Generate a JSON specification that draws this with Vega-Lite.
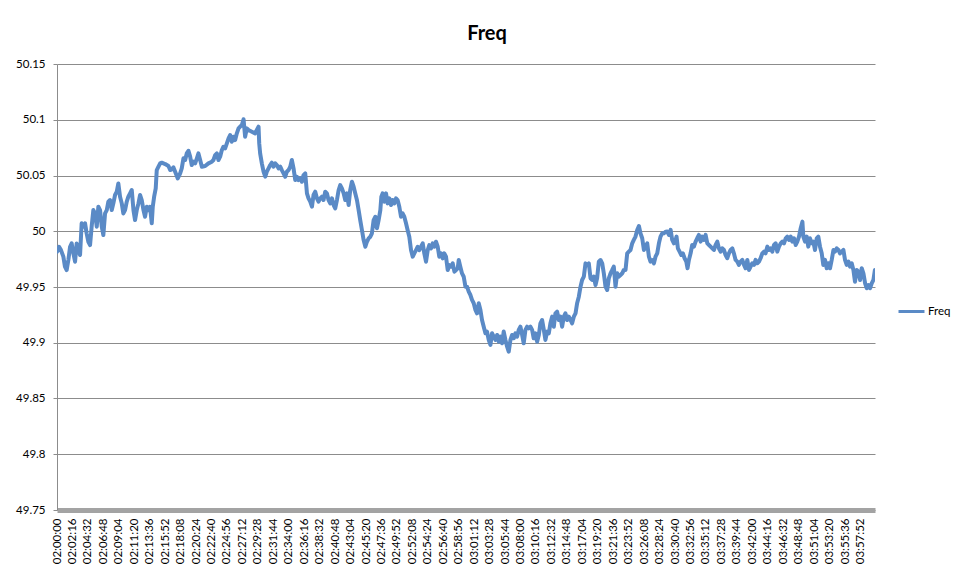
{
  "$schema": "https://vega.github.io/schema/vega-lite/v6.json",
  "width": 818,
  "height": 446,
  "autosize": {"type": "none"},
  "padding": {"left": 57, "top": 64, "right": 81, "bottom": 59},
  "background": "#ffffff",
  "view": {"stroke": null},
  "title": {"text": "Freq", "font": "Lato", "fontSize": 20, "fontWeight": "bold", "color": "#000000", "anchor": "middle", "dx": 21, "offset": 14},
  "data": {
    "format": {"parse": {"time": "utc:'%H:%M:%S'"}},
    "values": [
{"time":"02:00:00","freq":49.9816},{"time":"02:00:18","freq":49.9861},{"time":"02:00:35","freq":49.9831},{"time":"02:00:56","freq":49.9772},{"time":"02:01:10","freq":49.9682},{"time":"02:01:25","freq":49.9652},{"time":"02:01:40","freq":49.9742},{"time":"02:01:55","freq":49.9861},{"time":"02:02:09","freq":49.9891},{"time":"02:02:24","freq":49.9802},{"time":"02:02:39","freq":49.9727},{"time":"02:02:53","freq":49.9891},{"time":"02:03:08","freq":49.9831},{"time":"02:03:23","freq":49.9787},{"time":"02:03:37","freq":50.0071},{"time":"02:03:52","freq":50.0041},{"time":"02:04:07","freq":50.0071},{"time":"02:04:21","freq":49.9981},{"time":"02:04:36","freq":49.9906},{"time":"02:04:51","freq":49.9876},{"time":"02:05:05","freq":50.0041},{"time":"02:05:20","freq":50.019},{"time":"02:05:35","freq":50.016},{"time":"02:05:50","freq":50.0041},{"time":"02:06:04","freq":50.022},{"time":"02:06:19","freq":50.019},{"time":"02:06:34","freq":50.0041},{"time":"02:06:48","freq":49.9966},{"time":"02:07:03","freq":50.016},{"time":"02:07:18","freq":50.019},{"time":"02:07:32","freq":50.0265},{"time":"02:07:47","freq":50.028},{"time":"02:08:02","freq":50.019},{"time":"02:08:16","freq":50.025},{"time":"02:08:31","freq":50.0325},{"time":"02:08:46","freq":50.0355},{"time":"02:09:00","freq":50.0429},{"time":"02:09:15","freq":50.031},{"time":"02:09:30","freq":50.025},{"time":"02:09:44","freq":50.016},{"time":"02:09:59","freq":50.019},{"time":"02:10:14","freq":50.0265},{"time":"02:10:28","freq":50.031},{"time":"02:10:43","freq":50.034},{"time":"02:10:58","freq":50.037},{"time":"02:11:13","freq":50.019},{"time":"02:11:27","freq":50.01},{"time":"02:11:42","freq":50.019},{"time":"02:11:57","freq":50.025},{"time":"02:12:11","freq":50.0325},{"time":"02:12:26","freq":50.028},{"time":"02:12:41","freq":50.019},{"time":"02:12:55","freq":50.013},{"time":"02:13:10","freq":50.022},{"time":"02:13:25","freq":50.019},{"time":"02:13:39","freq":50.022},{"time":"02:13:54","freq":50.0071},{"time":"02:14:03","freq":50.022},{"time":"02:14:15","freq":50.031},{"time":"02:14:29","freq":50.0385},{"time":"02:14:38","freq":50.0549},{"time":"02:14:53","freq":50.0579},{"time":"02:15:08","freq":50.0609},{"time":"02:15:22","freq":50.0615},{"time":"02:15:52","freq":50.0603},{"time":"02:16:21","freq":50.0585},{"time":"02:16:36","freq":50.0549},{"time":"02:16:50","freq":50.0555},{"time":"02:17:05","freq":50.0573},{"time":"02:17:20","freq":50.0534},{"time":"02:17:43","freq":50.0474},{"time":"02:18:04","freq":50.0519},{"time":"02:18:18","freq":50.0564},{"time":"02:18:33","freq":50.0654},{"time":"02:18:48","freq":50.0639},{"time":"02:19:02","freq":50.0698},{"time":"02:19:17","freq":50.0722},{"time":"02:19:32","freq":50.0669},{"time":"02:19:46","freq":50.0594},{"time":"02:20:01","freq":50.0624},{"time":"02:20:16","freq":50.0609},{"time":"02:20:31","freq":50.0654},{"time":"02:20:45","freq":50.0698},{"time":"02:21:00","freq":50.0639},{"time":"02:21:15","freq":50.0579},{"time":"02:21:44","freq":50.0585},{"time":"02:22:13","freq":50.0609},{"time":"02:22:43","freq":50.0624},{"time":"02:22:57","freq":50.0639},{"time":"02:23:12","freq":50.0683},{"time":"02:23:27","freq":50.0698},{"time":"02:23:41","freq":50.0639},{"time":"02:23:56","freq":50.0669},{"time":"02:24:11","freq":50.0728},{"time":"02:24:25","freq":50.0758},{"time":"02:24:40","freq":50.0743},{"time":"02:24:55","freq":50.0788},{"time":"02:25:10","freq":50.0833},{"time":"02:25:24","freq":50.0863},{"time":"02:25:39","freq":50.0803},{"time":"02:25:54","freq":50.0848},{"time":"02:26:08","freq":50.0818},{"time":"02:26:23","freq":50.0878},{"time":"02:26:38","freq":50.0923},{"time":"02:26:52","freq":50.0938},{"time":"02:27:07","freq":50.0953},{"time":"02:27:22","freq":50.1005},{"time":"02:27:36","freq":50.0848},{"time":"02:27:51","freq":50.0923},{"time":"02:28:06","freq":50.0908},{"time":"02:28:35","freq":50.0893},{"time":"02:29:04","freq":50.0878},
{"time":"02:29:19","freq":50.0908},{"time":"02:29:34","freq":50.0938},{"time":"02:29:40","freq":50.0788},{"time":"02:29:48","freq":50.0698},{"time":"02:30:03","freq":50.0609},{"time":"02:30:18","freq":50.0534},{"time":"02:30:33","freq":50.0489},{"time":"02:30:47","freq":50.0534},{"time":"02:31:02","freq":50.0564},{"time":"02:31:17","freq":50.0594},{"time":"02:31:31","freq":50.0615},{"time":"02:31:46","freq":50.0579},{"time":"02:32:01","freq":50.0609},{"time":"02:32:15","freq":50.0594},{"time":"02:32:30","freq":50.0564},{"time":"02:32:45","freq":50.0579},{"time":"02:32:59","freq":50.0549},{"time":"02:33:14","freq":50.0519},{"time":"02:33:29","freq":50.0489},{"time":"02:33:43","freq":50.0534},{"time":"02:33:58","freq":50.0549},{"time":"02:34:13","freq":50.0579},{"time":"02:34:27","freq":50.0639},{"time":"02:34:42","freq":50.0564},{"time":"02:34:57","freq":50.0459},{"time":"02:35:11","freq":50.0489},{"time":"02:35:26","freq":50.0459},{"time":"02:35:41","freq":50.0474},{"time":"02:35:56","freq":50.0444},{"time":"02:36:10","freq":50.0504},{"time":"02:36:25","freq":50.0519},{"time":"02:36:40","freq":50.034},{"time":"02:36:54","freq":50.0295},{"time":"02:37:09","freq":50.0265},{"time":"02:37:24","freq":50.022},{"time":"02:37:38","freq":50.0325},{"time":"02:37:53","freq":50.0355},{"time":"02:38:08","freq":50.0295},{"time":"02:38:22","freq":50.0265},{"time":"02:38:37","freq":50.0295},{"time":"02:38:52","freq":50.031},{"time":"02:39:06","freq":50.028},{"time":"02:39:21","freq":50.0355},{"time":"02:39:36","freq":50.034},{"time":"02:39:50","freq":50.028},{"time":"02:40:05","freq":50.025},{"time":"02:40:20","freq":50.0295},{"time":"02:40:35","freq":50.0235},{"time":"02:40:49","freq":50.0205},{"time":"02:41:04","freq":50.028},{"time":"02:41:19","freq":50.037},{"time":"02:41:33","freq":50.0414},{"time":"02:41:48","freq":50.0385},{"time":"02:42:03","freq":50.034},{"time":"02:42:17","freq":50.028},{"time":"02:42:32","freq":50.034},{"time":"02:42:47","freq":50.0235},{"time":"02:43:01","freq":50.037},{"time":"02:43:16","freq":50.0444},{"time":"02:43:31","freq":50.0399},{"time":"02:43:45","freq":50.034},{"time":"02:44:00","freq":50.028},{"time":"02:44:15","freq":50.019},{"time":"02:44:29","freq":50.01},{"time":"02:44:44","freq":50.0011},{"time":"02:44:59","freq":49.9921},{"time":"02:45:14","freq":49.9861},{"time":"02:45:28","freq":49.9906},{"time":"02:45:43","freq":49.9936},{"time":"02:45:58","freq":49.9951},{"time":"02:46:12","freq":49.9981},{"time":"02:46:27","freq":50.01},{"time":"02:46:42","freq":50.013},{"time":"02:46:56","freq":50.0026},{"time":"02:47:11","freq":50.01},{"time":"02:47:26","freq":50.019},{"time":"02:47:35","freq":50.031},{"time":"02:47:46","freq":50.034},{"time":"02:48:01","freq":50.0265},{"time":"02:48:16","freq":50.034},{"time":"02:48:30","freq":50.025},{"time":"02:48:45","freq":50.0295},{"time":"02:49:00","freq":50.0235},{"time":"02:49:14","freq":50.028},{"time":"02:49:29","freq":50.025},{"time":"02:49:44","freq":50.0295},{"time":"02:49:58","freq":50.028},{"time":"02:50:13","freq":50.022},{"time":"02:50:28","freq":50.013},{"time":"02:50:42","freq":50.016},{"time":"02:50:57","freq":50.013},{"time":"02:51:12","freq":50.0071},{"time":"02:51:26","freq":50.0011},{"time":"02:51:41","freq":49.9951},{"time":"02:51:56","freq":49.9831},{"time":"02:52:11","freq":49.9772},{"time":"02:52:25","freq":49.9802},{"time":"02:52:40","freq":49.9831},{"time":"02:52:55","freq":49.9861},{"time":"02:53:09","freq":49.9831},{"time":"02:53:24","freq":49.9861},{"time":"02:53:39","freq":49.9891},{"time":"02:53:53","freq":49.9802},{"time":"02:54:08","freq":49.9727},{"time":"02:54:23","freq":49.9831},{"time":"02:54:37","freq":49.9876},{"time":"02:54:52","freq":49.9846},{"time":"02:55:07","freq":49.9891},{"time":"02:55:21","freq":49.9861},{"time":"02:55:36","freq":49.9906},{"time":"02:55:51","freq":49.9861},{"time":"02:56:05","freq":49.9772},{"time":"02:56:20","freq":49.9802},{"time":"02:56:35","freq":49.9757},{"time":"02:56:49","freq":49.9802},{"time":"02:57:04","freq":49.9772},{"time":"02:57:19","freq":49.9652},{"time":"02:57:34","freq":49.9697},{"time":"02:57:48","freq":49.9682},{"time":"02:58:03","freq":49.9712},{"time":"02:58:18","freq":49.9637},{"time":"02:58:32","freq":49.9652},{"time":"02:58:47","freq":49.9667},{"time":"02:58:56","freq":49.9742},{"time":"02:59:10","freq":49.9682},{"time":"02:59:25","freq":49.9622},{"time":"02:59:40","freq":49.9592},{"time":"02:59:55","freq":49.9503},
{"time":"03:00:09","freq":49.9503},{"time":"03:00:24","freq":49.9458},{"time":"03:00:39","freq":49.9428},{"time":"03:00:53","freq":49.9384},{"time":"03:01:08","freq":49.9354},{"time":"03:01:23","freq":49.9294},{"time":"03:01:37","freq":49.9264},{"time":"03:01:52","freq":49.9354},{"time":"03:02:07","freq":49.9294},{"time":"03:02:21","freq":49.9204},{"time":"03:02:36","freq":49.9144},{"time":"03:02:51","freq":49.9085},{"time":"03:03:05","freq":49.91},{"time":"03:03:20","freq":49.9025},{"time":"03:03:35","freq":49.898},{"time":"03:03:49","freq":49.9085},{"time":"03:04:04","freq":49.9055},{"time":"03:04:19","freq":49.9025},{"time":"03:04:34","freq":49.907},{"time":"03:04:48","freq":49.901},{"time":"03:05:03","freq":49.9055},{"time":"03:05:18","freq":49.8995},{"time":"03:05:32","freq":49.91},{"time":"03:05:47","freq":49.9025},{"time":"03:06:02","freq":49.8965},{"time":"03:06:16","freq":49.892},{"time":"03:06:31","freq":49.9025},{"time":"03:06:46","freq":49.907},{"time":"03:07:00","freq":49.904},{"time":"03:07:15","freq":49.9085},{"time":"03:07:30","freq":49.9055},{"time":"03:07:44","freq":49.9115},{"time":"03:07:59","freq":49.9144},{"time":"03:08:14","freq":49.907},{"time":"03:08:28","freq":49.8995},{"time":"03:08:43","freq":49.9115},{"time":"03:08:58","freq":49.9144},{"time":"03:09:12","freq":49.9129},{"time":"03:09:27","freq":49.9144},{"time":"03:09:42","freq":49.9115},{"time":"03:09:56","freq":49.904},{"time":"03:10:11","freq":49.9085},{"time":"03:10:26","freq":49.901},{"time":"03:10:41","freq":49.907},{"time":"03:10:55","freq":49.9174},{"time":"03:11:10","freq":49.9204},{"time":"03:11:25","freq":49.9115},{"time":"03:11:39","freq":49.9025},{"time":"03:11:54","freq":49.91},{"time":"03:12:09","freq":49.9085},{"time":"03:12:23","freq":49.9174},{"time":"03:12:38","freq":49.9234},{"time":"03:12:53","freq":49.9144},{"time":"03:13:07","freq":49.9264},{"time":"03:13:22","freq":49.9279},{"time":"03:13:37","freq":49.9204},{"time":"03:13:51","freq":49.9234},{"time":"03:14:06","freq":49.9144},{"time":"03:14:21","freq":49.9234},{"time":"03:14:35","freq":49.9264},{"time":"03:14:50","freq":49.9204},{"time":"03:15:05","freq":49.9234},{"time":"03:15:20","freq":49.9204},{"time":"03:15:34","freq":49.9174},{"time":"03:15:49","freq":49.9234},{"time":"03:16:04","freq":49.9264},{"time":"03:16:18","freq":49.9354},{"time":"03:16:33","freq":49.9413},{"time":"03:16:48","freq":49.9503},{"time":"03:17:02","freq":49.9563},{"time":"03:17:17","freq":49.9593},{"time":"03:17:32","freq":49.9712},{"time":"03:17:46","freq":49.9697},{"time":"03:18:01","freq":49.9712},{"time":"03:18:16","freq":49.9578},{"time":"03:18:30","freq":49.9563},{"time":"03:18:45","freq":49.9593},{"time":"03:19:00","freq":49.9518},{"time":"03:19:14","freq":49.9578},{"time":"03:19:29","freq":49.9727},{"time":"03:19:44","freq":49.9742},{"time":"03:19:59","freq":49.9712},{"time":"03:20:13","freq":49.9623},{"time":"03:20:28","freq":49.9503},{"time":"03:20:43","freq":49.9473},{"time":"03:20:57","freq":49.9578},{"time":"03:21:12","freq":49.9623},{"time":"03:21:27","freq":49.9653},{"time":"03:21:41","freq":49.9683},{"time":"03:21:56","freq":49.9503},{"time":"03:22:11","freq":49.9623},{"time":"03:22:25","freq":49.9593},{"time":"03:22:40","freq":49.9608},{"time":"03:22:55","freq":49.9623},{"time":"03:23:09","freq":49.9653},{"time":"03:23:24","freq":49.9653},{"time":"03:23:39","freq":49.9802},{"time":"03:23:53","freq":49.9817},{"time":"03:24:08","freq":49.9832},{"time":"03:24:23","freq":49.9892},{"time":"03:24:37","freq":49.9922},{"time":"03:24:52","freq":49.9952},{"time":"03:25:07","freq":50.0011},{"time":"03:25:22","freq":50.0047},{"time":"03:25:36","freq":49.9981},{"time":"03:25:51","freq":49.9937},{"time":"03:26:06","freq":49.9832},{"time":"03:26:20","freq":49.9862},{"time":"03:26:35","freq":49.9892},{"time":"03:26:50","freq":49.9772},{"time":"03:27:04","freq":49.9727},{"time":"03:27:19","freq":49.9742},{"time":"03:27:34","freq":49.9712},{"time":"03:27:48","freq":49.9772},{"time":"03:28:03","freq":49.9802},{"time":"03:28:18","freq":49.9892},{"time":"03:28:32","freq":49.9952},{"time":"03:28:47","freq":49.9981},{"time":"03:29:02","freq":49.9981},{"time":"03:29:17","freq":49.9996},
{"time":"03:29:31","freq":49.9997},{"time":"03:29:46","freq":49.9967},{"time":"03:30:01","freq":50.0012},{"time":"03:30:15","freq":49.9922},{"time":"03:30:30","freq":49.9892},{"time":"03:30:45","freq":49.9922},{"time":"03:30:53","freq":49.9952},{"time":"03:31:05","freq":49.9847},{"time":"03:31:20","freq":49.9817},{"time":"03:31:35","freq":49.9787},{"time":"03:31:49","freq":49.9802},{"time":"03:32:04","freq":49.9758},{"time":"03:32:19","freq":49.9728},{"time":"03:32:30","freq":49.9668},{"time":"03:32:42","freq":49.9743},{"time":"03:32:57","freq":49.9802},{"time":"03:33:11","freq":49.9877},{"time":"03:33:26","freq":49.9862},{"time":"03:33:41","freq":49.9907},{"time":"03:33:55","freq":49.9937},{"time":"03:34:10","freq":49.9967},{"time":"03:34:25","freq":49.9907},{"time":"03:34:40","freq":49.9952},{"time":"03:34:54","freq":49.9922},{"time":"03:35:09","freq":49.9967},{"time":"03:35:24","freq":49.9892},{"time":"03:35:38","freq":49.9877},{"time":"03:35:53","freq":49.9862},{"time":"03:36:08","freq":49.9847},{"time":"03:36:22","freq":49.9832},{"time":"03:36:37","freq":49.9877},{"time":"03:36:52","freq":49.9907},{"time":"03:37:06","freq":49.9847},{"time":"03:37:21","freq":49.9817},{"time":"03:37:36","freq":49.9847},{"time":"03:37:50","freq":49.9832},{"time":"03:38:05","freq":49.9787},{"time":"03:38:20","freq":49.9758},{"time":"03:38:34","freq":49.9802},{"time":"03:38:49","freq":49.9832},{"time":"03:39:04","freq":49.9847},{"time":"03:39:18","freq":49.9802},{"time":"03:39:33","freq":49.9743},{"time":"03:39:48","freq":49.9728},{"time":"03:40:02","freq":49.9698},{"time":"03:40:17","freq":49.9728},{"time":"03:40:32","freq":49.9743},{"time":"03:40:47","freq":49.9698},{"time":"03:41:01","freq":49.9668},{"time":"03:41:16","freq":49.9743},{"time":"03:41:31","freq":49.9653},{"time":"03:41:45","freq":49.9683},{"time":"03:42:00","freq":49.9713},{"time":"03:42:15","freq":49.9698},{"time":"03:42:29","freq":49.9743},{"time":"03:42:44","freq":49.9713},{"time":"03:42:59","freq":49.9728},{"time":"03:43:13","freq":49.9758},{"time":"03:43:28","freq":49.9802},{"time":"03:43:43","freq":49.9817},{"time":"03:43:57","freq":49.9802},{"time":"03:44:12","freq":49.9862},{"time":"03:44:27","freq":49.9832},{"time":"03:44:41","freq":49.9847},{"time":"03:44:56","freq":49.9817},{"time":"03:45:11","freq":49.9877},{"time":"03:45:26","freq":49.9892},{"time":"03:45:40","freq":49.9817},{"time":"03:45:55","freq":49.9862},{"time":"03:46:10","freq":49.9892},{"time":"03:46:24","freq":49.9907},{"time":"03:46:39","freq":49.9892},{"time":"03:46:54","freq":49.9937},{"time":"03:47:08","freq":49.9952},{"time":"03:47:23","freq":49.9922},{"time":"03:47:38","freq":49.9952},{"time":"03:47:52","freq":49.9907},{"time":"03:48:07","freq":49.9937},{"time":"03:48:22","freq":49.9877},{"time":"03:48:36","freq":49.9907},{"time":"03:48:51","freq":49.9952},{"time":"03:49:06","freq":50.0027},{"time":"03:49:21","freq":50.0086},{"time":"03:49:29","freq":49.9952},{"time":"03:49:44","freq":49.9907},{"time":"03:49:59","freq":49.9952},{"time":"03:50:13","freq":49.9862},{"time":"03:50:28","freq":49.9937},{"time":"03:50:43","freq":49.9892},{"time":"03:50:57","freq":49.9907},{"time":"03:51:12","freq":49.9832},{"time":"03:51:27","freq":49.9937},{"time":"03:51:41","freq":49.9952},{"time":"03:51:56","freq":49.9862},{"time":"03:52:11","freq":49.9802},{"time":"03:52:25","freq":49.9698},{"time":"03:52:40","freq":49.9743},{"time":"03:52:55","freq":49.9668},{"time":"03:53:09","freq":49.9713},{"time":"03:53:24","freq":49.9668},{"time":"03:53:39","freq":49.9743},{"time":"03:53:54","freq":49.9832},{"time":"03:54:08","freq":49.9817},{"time":"03:54:23","freq":49.9847},{"time":"03:54:38","freq":49.9832},{"time":"03:54:52","freq":49.9802},{"time":"03:55:07","freq":49.9817},{"time":"03:55:22","freq":49.9832},{"time":"03:55:36","freq":49.9743},{"time":"03:55:51","freq":49.9698},{"time":"03:56:06","freq":49.9728},{"time":"03:56:20","freq":49.9683},{"time":"03:56:35","freq":49.9713},{"time":"03:56:50","freq":49.9653},{"time":"03:57:04","freq":49.9548},{"time":"03:57:19","freq":49.9653},{"time":"03:57:34","freq":49.9638},{"time":"03:57:49","freq":49.9563},{"time":"03:58:03","freq":49.9668},{"time":"03:58:18","freq":49.9623},{"time":"03:58:33","freq":49.9533},{"time":"03:58:47","freq":49.9489},{"time":"03:59:02","freq":49.9518},{"time":"03:59:17","freq":49.9489},{"time":"03:59:31","freq":49.9533},{"time":"03:59:46","freq":49.9563},{"time":"03:59:59","freq":49.9653}
    ]
  },
  "mark": {"type": "line", "strokeWidth": 4, "strokeJoin": "round", "strokeCap": "round", "clip": true},
  "encoding": {
    "x": {
      "field": "time",
      "type": "temporal",
      "scale": {"type": "utc", "nice": false, "domain": [{"utc": true, "year": 1900, "month": 1, "date": 1, "hours": 2}, {"utc": true, "year": 1900, "month": 1, "date": 1, "hours": 4}]},
      "axis": {
        "title": null,
        "format": "%H:%M:%S",
        "labelAngle": 270,
        "labelFont": "Lato",
        "labelFontSize": 11.5,
        "labelColor": "#000000",
        "labelOverlap": false,
        "labelFlush": false,
        "labelPadding": 8,
        "ticks": false,
        "grid": false,
        "domainColor": "#a3a3a3",
        "domainWidth": 5,
        "values": [
          {"utc":true,"year":1900,"month":1,"date":1,"hours":2,"minutes":0,"seconds":0},
          {"utc":true,"year":1900,"month":1,"date":1,"hours":2,"minutes":2,"seconds":16},
          {"utc":true,"year":1900,"month":1,"date":1,"hours":2,"minutes":4,"seconds":32},
          {"utc":true,"year":1900,"month":1,"date":1,"hours":2,"minutes":6,"seconds":48},
          {"utc":true,"year":1900,"month":1,"date":1,"hours":2,"minutes":9,"seconds":4},
          {"utc":true,"year":1900,"month":1,"date":1,"hours":2,"minutes":11,"seconds":20},
          {"utc":true,"year":1900,"month":1,"date":1,"hours":2,"minutes":13,"seconds":36},
          {"utc":true,"year":1900,"month":1,"date":1,"hours":2,"minutes":15,"seconds":52},
          {"utc":true,"year":1900,"month":1,"date":1,"hours":2,"minutes":18,"seconds":8},
          {"utc":true,"year":1900,"month":1,"date":1,"hours":2,"minutes":20,"seconds":24},
          {"utc":true,"year":1900,"month":1,"date":1,"hours":2,"minutes":22,"seconds":40},
          {"utc":true,"year":1900,"month":1,"date":1,"hours":2,"minutes":24,"seconds":56},
          {"utc":true,"year":1900,"month":1,"date":1,"hours":2,"minutes":27,"seconds":12},
          {"utc":true,"year":1900,"month":1,"date":1,"hours":2,"minutes":29,"seconds":28},
          {"utc":true,"year":1900,"month":1,"date":1,"hours":2,"minutes":31,"seconds":44},
          {"utc":true,"year":1900,"month":1,"date":1,"hours":2,"minutes":34,"seconds":0},
          {"utc":true,"year":1900,"month":1,"date":1,"hours":2,"minutes":36,"seconds":16},
          {"utc":true,"year":1900,"month":1,"date":1,"hours":2,"minutes":38,"seconds":32},
          {"utc":true,"year":1900,"month":1,"date":1,"hours":2,"minutes":40,"seconds":48},
          {"utc":true,"year":1900,"month":1,"date":1,"hours":2,"minutes":43,"seconds":4},
          {"utc":true,"year":1900,"month":1,"date":1,"hours":2,"minutes":45,"seconds":20},
          {"utc":true,"year":1900,"month":1,"date":1,"hours":2,"minutes":47,"seconds":36},
          {"utc":true,"year":1900,"month":1,"date":1,"hours":2,"minutes":49,"seconds":52},
          {"utc":true,"year":1900,"month":1,"date":1,"hours":2,"minutes":52,"seconds":8},
          {"utc":true,"year":1900,"month":1,"date":1,"hours":2,"minutes":54,"seconds":24},
          {"utc":true,"year":1900,"month":1,"date":1,"hours":2,"minutes":56,"seconds":40},
          {"utc":true,"year":1900,"month":1,"date":1,"hours":2,"minutes":58,"seconds":56},
          {"utc":true,"year":1900,"month":1,"date":1,"hours":3,"minutes":1,"seconds":12},
          {"utc":true,"year":1900,"month":1,"date":1,"hours":3,"minutes":3,"seconds":28},
          {"utc":true,"year":1900,"month":1,"date":1,"hours":3,"minutes":5,"seconds":44},
          {"utc":true,"year":1900,"month":1,"date":1,"hours":3,"minutes":8,"seconds":0},
          {"utc":true,"year":1900,"month":1,"date":1,"hours":3,"minutes":10,"seconds":16},
          {"utc":true,"year":1900,"month":1,"date":1,"hours":3,"minutes":12,"seconds":32},
          {"utc":true,"year":1900,"month":1,"date":1,"hours":3,"minutes":14,"seconds":48},
          {"utc":true,"year":1900,"month":1,"date":1,"hours":3,"minutes":17,"seconds":4},
          {"utc":true,"year":1900,"month":1,"date":1,"hours":3,"minutes":19,"seconds":20},
          {"utc":true,"year":1900,"month":1,"date":1,"hours":3,"minutes":21,"seconds":36},
          {"utc":true,"year":1900,"month":1,"date":1,"hours":3,"minutes":23,"seconds":52},
          {"utc":true,"year":1900,"month":1,"date":1,"hours":3,"minutes":26,"seconds":8},
          {"utc":true,"year":1900,"month":1,"date":1,"hours":3,"minutes":28,"seconds":24},
          {"utc":true,"year":1900,"month":1,"date":1,"hours":3,"minutes":30,"seconds":40},
          {"utc":true,"year":1900,"month":1,"date":1,"hours":3,"minutes":32,"seconds":56},
          {"utc":true,"year":1900,"month":1,"date":1,"hours":3,"minutes":35,"seconds":12},
          {"utc":true,"year":1900,"month":1,"date":1,"hours":3,"minutes":37,"seconds":28},
          {"utc":true,"year":1900,"month":1,"date":1,"hours":3,"minutes":39,"seconds":44},
          {"utc":true,"year":1900,"month":1,"date":1,"hours":3,"minutes":42,"seconds":0},
          {"utc":true,"year":1900,"month":1,"date":1,"hours":3,"minutes":44,"seconds":16},
          {"utc":true,"year":1900,"month":1,"date":1,"hours":3,"minutes":46,"seconds":32},
          {"utc":true,"year":1900,"month":1,"date":1,"hours":3,"minutes":48,"seconds":48},
          {"utc":true,"year":1900,"month":1,"date":1,"hours":3,"minutes":51,"seconds":4},
          {"utc":true,"year":1900,"month":1,"date":1,"hours":3,"minutes":53,"seconds":20},
          {"utc":true,"year":1900,"month":1,"date":1,"hours":3,"minutes":55,"seconds":36},
          {"utc":true,"year":1900,"month":1,"date":1,"hours":3,"minutes":57,"seconds":52}
        ]
      }
    },
    "y": {
      "field": "freq",
      "type": "quantitative",
      "scale": {"domain": [49.75, 50.15], "nice": false, "zero": false},
      "axis": {
        "title": null,
        "values": [49.75, 49.8, 49.85, 49.9, 49.95, 50, 50.05, 50.1, 50.15],
        "format": ".2~f",
        "labelFont": "Lato",
        "labelFontSize": 11.5,
        "labelColor": "#000000",
        "labelPadding": 8,
        "tickSize": 4,
        "tickColor": "#8c8c8c",
        "domainColor": "#8c8c8c",
        "gridColor": "#8c8c8c",
        "gridWidth": 1
      }
    },
    "color": {
      "datum": "Freq",
      "type": "nominal",
      "scale": {"range": ["#5A8AC6"]},
      "legend": {
        "title": null,
        "orient": "none",
        "legendX": 840,
        "legendY": 233,
        "symbolType": "stroke",
        "symbolSize": 676,
        "symbolStrokeWidth": 3,
        "labelFont": "Lato",
        "labelFontSize": 11.5,
        "labelColor": "#000000",
        "labelOffset": 2,
        "padding": 0
      }
    }
  }
}
